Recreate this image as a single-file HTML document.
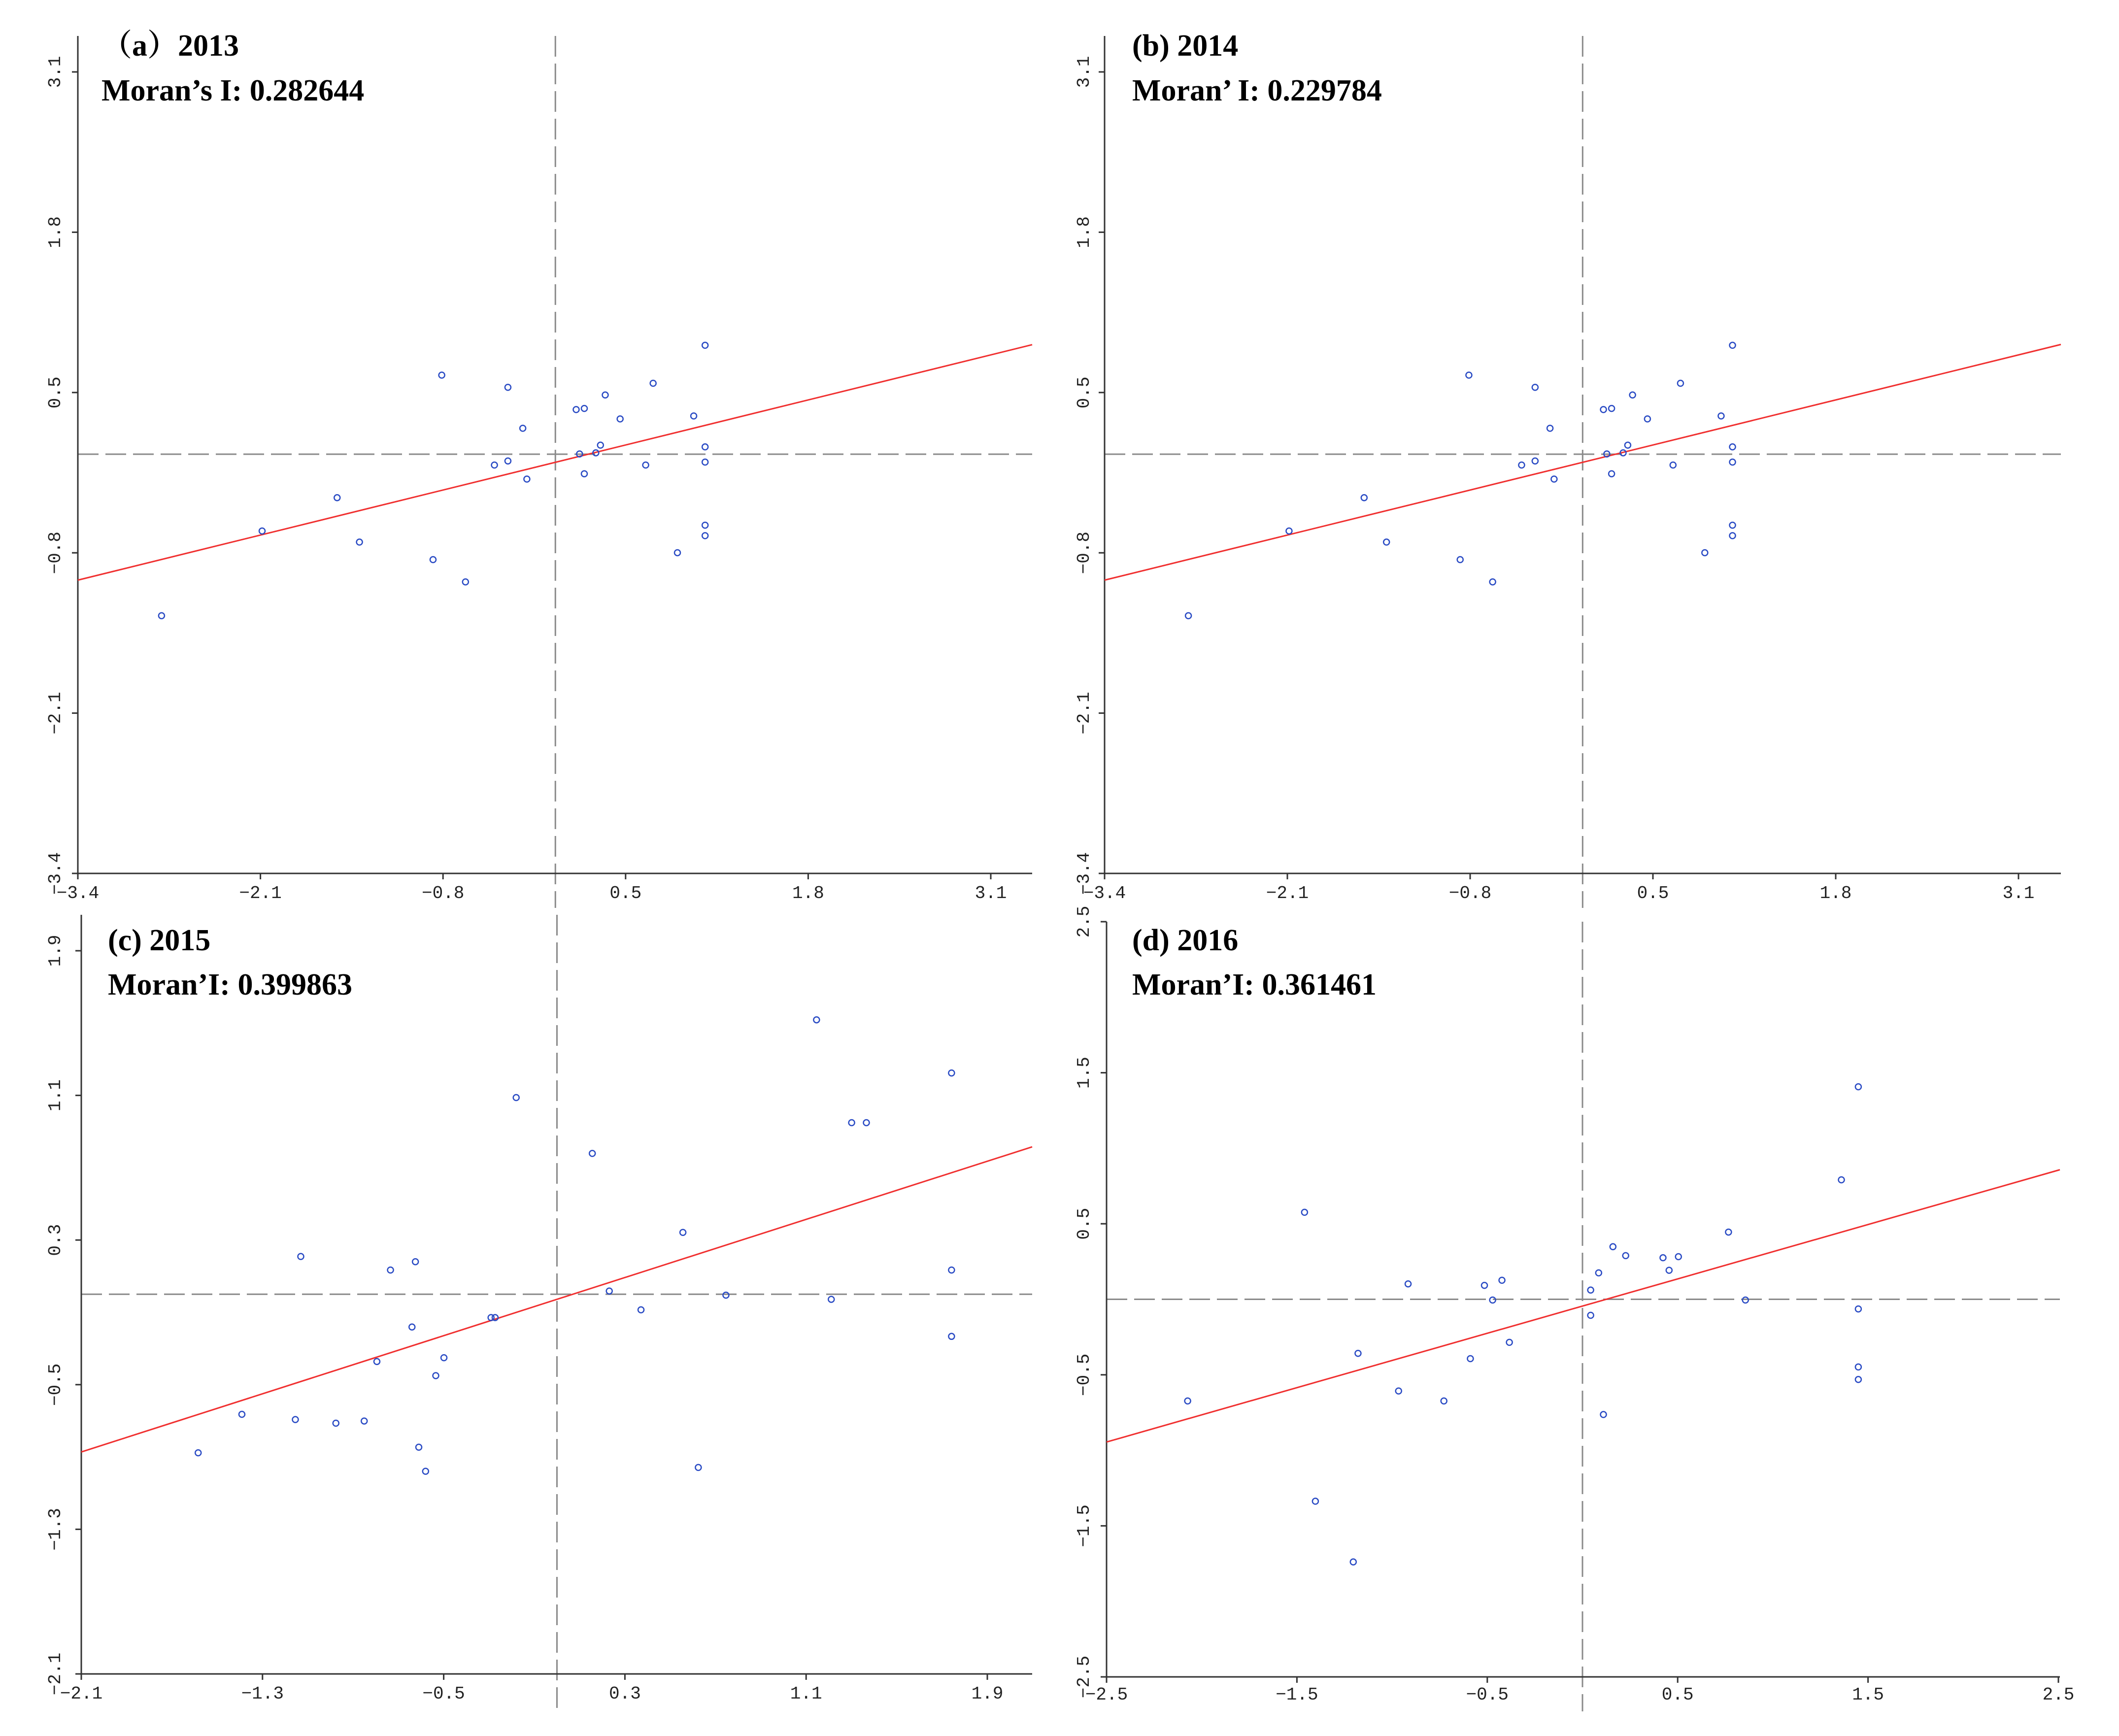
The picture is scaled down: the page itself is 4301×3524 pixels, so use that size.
<!DOCTYPE html>
<html><head><meta charset="utf-8">
<style>
html,body{margin:0;padding:0;background:#fff;}
svg{display:block;}
.tick{font-family:"Liberation Mono",monospace;font-size:36px;fill:#222;}
.ttl{font-family:"Liberation Serif","Noto Serif CJK SC",serif;font-weight:bold;font-size:62px;fill:#000;}
</style></head>
<body>
<svg id="chart" width="4301" height="3524" viewBox="0 0 4301 3524" xmlns="http://www.w3.org/2000/svg"></svg>
<script>
// ---- data ----
const xA = [1.066,-0.809,-0.338,0.696,0.355,0.148,0.206,0.461,0.985,-0.232,0.321,1.066,0.172,0.288,-0.434,-0.338,0.643,1.066,0.206,-0.203,-1.554,-2.088,-1.395,1.066,1.066,0.869,-0.871,-0.64,-2.804];
const yA = [0.883,0.641,0.542,0.575,0.48,0.362,0.371,0.286,0.31,0.21,0.073,0.059,0.002,0.011,-0.088,-0.055,-0.088,-0.064,-0.159,-0.202,-0.353,-0.623,-0.713,-0.576,-0.661,-0.799,-0.855,-1.036,-1.31];
const xB = [1.066,-0.809,-0.338,0.696,0.355,0.148,0.206,0.461,0.985,-0.232,0.321,1.066,0.172,0.288,-0.434,-0.338,0.643,1.066,0.206,-0.203,-1.554,-2.088,-1.395,1.066,1.066,0.869,-0.871,-0.64,-2.804];
const yB = [0.883,0.641,0.542,0.575,0.48,0.362,0.371,0.286,0.31,0.21,0.073,0.059,0.002,0.011,-0.088,-0.055,-0.088,-0.064,-0.159,-0.202,-0.353,-0.623,-0.713,-0.576,-0.661,-0.799,-0.855,-1.036,-1.31];
const xC = [1.146,1.742,-0.18,1.301,1.366,0.156,0.556,-1.131,-0.625,-0.735,1.742,0.231,0.746,1.211,0.371,-0.291,-0.273,-0.64,1.742,-0.499,-0.795,-0.535,-1.391,-1.155,-0.976,-0.851,-0.61,-1.584,-0.58,0.624];
const yC = [1.518,1.224,1.088,0.949,0.949,0.779,0.342,0.209,0.18,0.134,0.134,0.018,-0.005,-0.028,-0.086,-0.129,-0.129,-0.181,-0.233,-0.351,-0.372,-0.45,-0.664,-0.693,-0.713,-0.701,-0.846,-0.877,-0.979,-0.958];
const xD = [1.449,1.36,-1.46,0.767,0.16,0.227,0.423,0.504,0.455,0.085,-0.423,-0.916,-0.515,0.043,-0.472,0.856,1.449,0.043,-0.384,-1.179,-0.589,1.449,1.449,-0.966,-2.074,-0.728,0.11,-1.403,-1.204];
const yD = [1.407,0.791,0.576,0.445,0.348,0.289,0.275,0.282,0.192,0.175,0.126,0.102,0.092,0.061,-0.005,-0.005,-0.064,-0.106,-0.285,-0.358,-0.393,-0.448,-0.531,-0.607,-0.673,-0.673,-0.763,-1.337,-1.739];
const ticksAB = [-3.4,-2.1,-0.8,0.5,1.8,3.1];
const ticksC = [-2.1,-1.3,-0.5,0.3,1.1,1.9];
const ticksD = [-2.5,-1.5,-0.5,0.5,1.5,2.5];
const slopes = [0.281,0.281,0.402,0.36];
const intercepts = [-0.066,-0.066,-0.028,-0.045];
const titles = ["（a）2013","(b) 2014","(c) 2015","(d) 2016"];
const moranLabels = ["Moran’s I: 0.282644","Moran’ I: 0.229784","Moran’I: 0.399863","Moran’I: 0.361461"];

// ---- layout ----
const panels = [
 {xs:xA,ys:yA,ticks:ticksAB,x0:158,x1:2011,xr:2095,y0:1773,y1:146,yt:73,ylab:110,xlab:1811,tx:206,ty:113,my:204},
 {xs:xB,ys:yB,ticks:ticksAB,x0:2242,x1:4097,xr:4183,y0:1773,y1:146,yt:73,ylab:2198,xlab:1811,tx:2298,ty:113,my:204},
 {xs:xC,ys:yC,ticks:ticksC,x0:165,x1:2004,xr:2095,y0:3398,y1:1930,yt:1857,ylab:110,xlab:3436,tx:219,ty:1929,my:2019},
 {xs:xD,ys:yD,ticks:ticksD,x0:2246,x1:4178,xr:4181,y0:3404,y1:1871,yt:1871,ylab:2198,xlab:3438,tx:2298,ty:1929,my:2019}
];
const NS="http://www.w3.org/2000/svg";
const svg=document.getElementById('chart');
function mk(tag,attrs,parent){const e=document.createElementNS(NS,tag);for(const k in attrs)e.setAttribute(k,attrs[k]);(parent||svg).appendChild(e);return e;}

panels.forEach((p,i)=>{
  const t=p.ticks, tmin=t[0], tmax=t[t.length-1];
  const sx=v=>p.x0+(v-tmin)/(tmax-tmin)*(p.x1-p.x0);
  const sy=v=>p.y0-(v-tmin)/(tmax-tmin)*(p.y0-p.y1);
  const inv=px=>tmin+(px-p.x0)/(p.x1-p.x0)*(tmax-tmin);
  const g=mk('g',{});
  
  
  const hd=mk('line',{x1:p.x0,y1:sy(0),x2:p.xr,y2:sy(0),stroke:'#8a8a8a','stroke-width':3,'stroke-dasharray':'42 14'},g);
  
  
  const vd=mk('line',{x1:sx(0),y1:p.yt,x2:sx(0),y2:p.y0+70,stroke:'#8a8a8a','stroke-width':3,'stroke-dasharray':'42 14'},g);
  
  
  const ya=mk('line',{x1:p.x0,y1:p.yt,x2:p.x0,y2:p.y0,stroke:'#333','stroke-width':3},g);
  
  
  const xa=mk('line',{x1:p.x0-12,y1:p.y0,x2:p.xr,y2:p.y0,stroke:'#333','stroke-width':3},g);
  
  
  t.forEach(v=>{
    mk('line',{x1:sx(v),y1:p.y0,x2:sx(v),y2:p.y0+12,stroke:'#333','stroke-width':3},g);
    mk('line',{x1:p.x0-12,y1:sy(v),x2:p.x0,y2:sy(v),stroke:'#333','stroke-width':3},g);
    const lbl=(v<0?'−':'')+Math.abs(v).toFixed(1);
    const xl=mk('text',{x:sx(v),y:p.xlab+12,'text-anchor':'middle',class:'tick'},g);
    xl.textContent=lbl;
    
    
    const yl=mk('text',{x:0,y:0,'text-anchor':'middle',class:'tick',transform:`translate(${p.ylab+12},${sy(v)}) rotate(-90)`},g);
    yl.textContent=lbl;
    
    
  });
  const xe=inv(p.xr);
  const rl=mk('line',{x1:sx(tmin),y1:sy(slopes[i]*tmin+intercepts[i]),x2:sx(xe),y2:sy(slopes[i]*xe+intercepts[i]),stroke:'#f03030','stroke-width':3},g);
  
  
  p.xs.forEach((xv,j)=>{
    const c=mk('circle',{cx:sx(xv),cy:sy(p.ys[j]),r:6,fill:'none',stroke:'#2a4bc4','stroke-width':2.5},g);
    
    
  });
  const tt=mk('text',{x:p.tx,y:p.ty,class:'ttl'},g);
  tt.textContent=titles[i];
  
  
  const mt=mk('text',{x:p.tx,y:p.my,class:'ttl'},g);
  mt.textContent=moranLabels[i];
  
  
});
</script>
</body></html>
